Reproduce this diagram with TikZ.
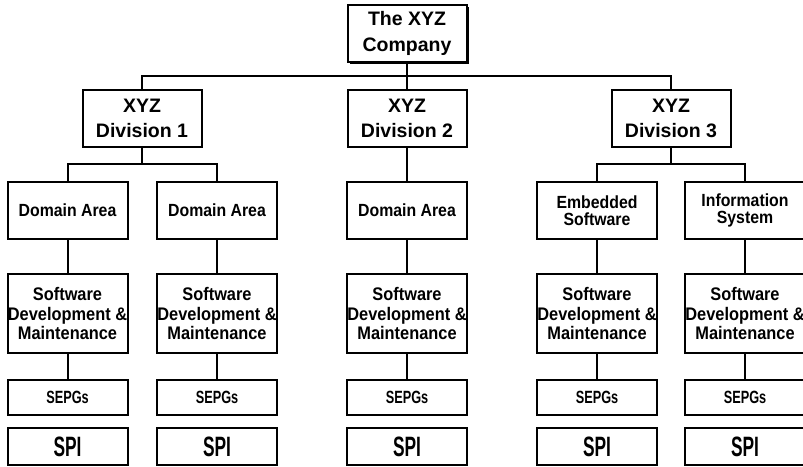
\documentclass[tikz,border=0pt]{standalone}
\usepackage{fontspec}
\setmainfont{Liberation Sans}
\newfontfamily\narrowfont[FakeStretch=0.9]{Liberation Sans}
\newfontfamily\condfont[FakeStretch=0.72]{Liberation Sans}
\newfontfamily\spifont[FakeStretch=0.62]{Liberation Sans}
\usetikzlibrary{shadows}
\tikzset{
  orgbox/.style={draw, line width=1pt, minimum width=60pt, align=center, inner sep=0pt, fill=white},
  topbox/.style={orgbox, minimum width=59.5pt, minimum height=28.5pt,
    font=\bfseries\fontsize{9.75}{12.8}\selectfont,
    drop shadow={shadow xshift=1pt, shadow yshift=-1pt, opacity=1, fill=black}},
  divbox/.style={orgbox, minimum width=59.5pt, minimum height=28.5pt,
    font=\bfseries\fontsize{9.75}{12.8}\selectfont},
  areabox/.style={orgbox, minimum height=28.5pt, font=\narrowfont\bfseries\fontsize{8.8}{8.5}\selectfont},
  swbox/.style={orgbox, minimum height=39.5pt, font=\narrowfont\bfseries\fontsize{9.1}{9.75}\selectfont},
  sepgbox/.style={orgbox, minimum height=17.5pt, font=\condfont\bfseries\fontsize{8.85}{9}\selectfont},
  spibox/.style={orgbox, minimum height=18.5pt, font=\spifont\bfseries\fontsize{14}{14}\selectfont},
  wire/.style={line width=1pt},
}
\begin{document}
\begin{tikzpicture}[x=0.5pt,y=-0.5pt]
\useasboundingbox (0,0) rectangle (803,466);
\node[topbox] (company) at (407,33.5) {The XYZ\\Company};
\node[divbox] (div1) at (142,118.5) {XYZ\\Division 1};
\node[divbox] (div2) at (407,118.5) {XYZ\\Division 2};
\node[divbox] (div3) at (671,118.5) {XYZ\\Division 3};
\node[areabox] (area1) at (67.5,210.5) {Domain Area};
\node[areabox] (area2) at (217,210.5) {Domain Area};
\node[areabox] (area3) at (407,210.5) {Domain Area};
\node[areabox] (area4) at (597,210.5) {Embedded\\Software};
\node[areabox] (area5) at (745,210.5) {Information\\System};
\node[swbox] (sw1) at (67.5,313.5) {Software\\Development \&\\Maintenance};
\node[swbox] (sw2) at (217,313.5) {Software\\Development \&\\Maintenance};
\node[swbox] (sw3) at (407,313.5) {Software\\Development \&\\Maintenance};
\node[swbox] (sw4) at (597,313.5) {Software\\Development \&\\Maintenance};
\node[swbox] (sw5) at (745,313.5) {Software\\Development \&\\Maintenance};
\node[sepgbox] (sepg1) at (67.5,397) {SEPGs};
\node[sepgbox] (sepg2) at (217,397) {SEPGs};
\node[sepgbox] (sepg3) at (407,397) {SEPGs};
\node[sepgbox] (sepg4) at (597,397) {SEPGs};
\node[sepgbox] (sepg5) at (745,397) {SEPGs};
\node[spibox] (spi1) at (67.5,446.5) {SPI};
\node[spibox] (spi2) at (217,446.5) {SPI};
\node[spibox] (spi3) at (407,446.5) {SPI};
\node[spibox] (spi4) at (597,446.5) {SPI};
\node[spibox] (spi5) at (745,446.5) {SPI};
\coordinate (bus1) at (142,164);
\coordinate (bus3) at (671,164);
\draw[wire] (company) -- (div2);
\draw[wire] (div1.north) -- ++(0,-13) -| (div3.north);
\draw[wire] (div1) -- (bus1);
\draw[wire] (area1.north) |- (bus1) -| (area2.north);
\draw[wire] (div2) -- (area3);
\draw[wire] (div3) -- (bus3);
\draw[wire] (area4.north) |- (bus3) -| (area5.north);
\draw[wire] (area1) -- (sw1);
\draw[wire] (area2) -- (sw2);
\draw[wire] (area3) -- (sw3);
\draw[wire] (area4) -- (sw4);
\draw[wire] (area5) -- (sw5);
\draw[wire] (sw1) -- (sepg1);
\draw[wire] (sw2) -- (sepg2);
\draw[wire] (sw3) -- (sepg3);
\draw[wire] (sw4) -- (sepg4);
\draw[wire] (sw5) -- (sepg5);
\end{tikzpicture}
\end{document}
